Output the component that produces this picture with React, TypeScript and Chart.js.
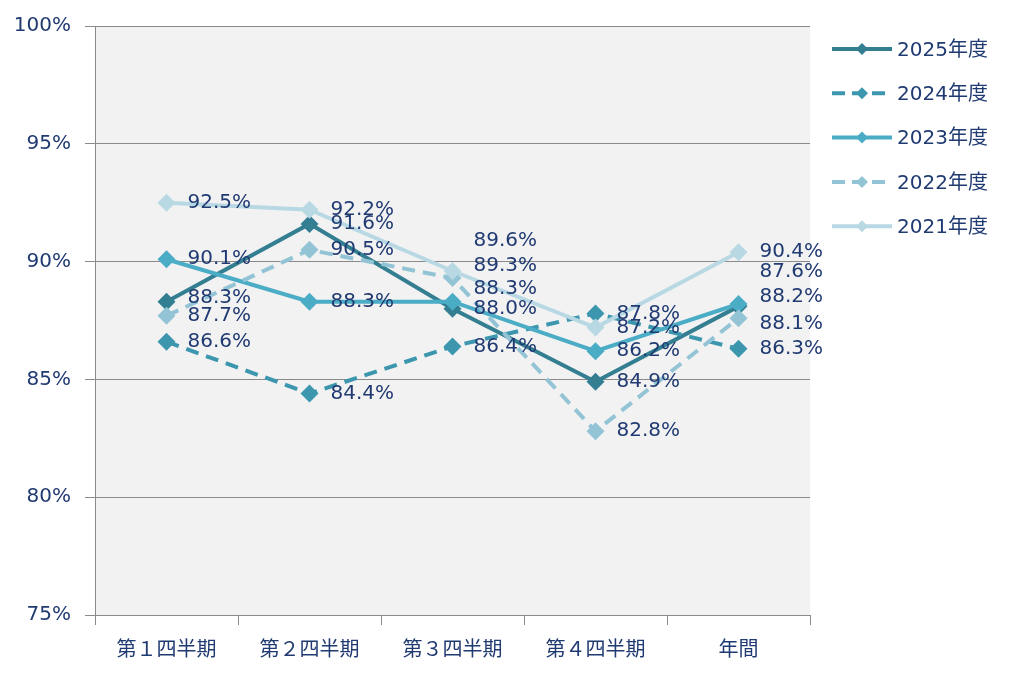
import React, { useRef, useEffect } from 'react';
import Chart from 'chart.js/auto';

// データ
const categories = ['第１四半期', '第２四半期', '第３四半期', '第４四半期', '年間'];
const seriesNames = ['2025年度', '2024年度', '2023年度', '2022年度', '2021年度'];
const values2025 = [88.3, 91.6, 88.0, 84.9, 88.1];
const values2024 = [86.6, 84.4, 86.4, 87.8, 86.3];
const values2023 = [90.1, 88.3, 88.3, 86.2, 88.2];
const values2022 = [87.7, 90.5, 89.3, 82.8, 87.6];
const values2021 = [92.5, 92.2, 89.6, 87.2, 90.4];
const yTicks = [75, 80, 85, 90, 95, 100];

const seriesValues = [values2025, values2024, values2023, values2022, values2021];
const seriesColors = ['#337E91', '#3C97AE', '#4BACC6', '#92C4D6', '#B8D9E4'];
const seriesDashed = [false, true, false, true, false];

// ラベルの上下位置の微調整 (px)
const labelNudge = [
    [-4, 0, 0, 0, 17],
    [0, 0, 0, 0, 0],
    [0, 0, -13, 0, -7],
    [0, 0, -12, 0, -46],
    [0, 0, -30, 0, 0],
];

const FONT = '"DejaVu Sans", "Noto Sans CJK JP", sans-serif';
const TEXT = '#203A72';
const GRID = '#8A8A8A';

const App: React.FC = () => {
    const canvasRef = useRef<HTMLCanvasElement>(null);
    const chartRef = useRef<Chart | null>(null);

    useEffect(() => {
        document.body.style.margin = '0';
        if (!canvasRef.current) return;
        if (chartRef.current) chartRef.current.destroy();

        // プロット領域の背景
        const bgPlugin = {
            id: 'plotBg',
            beforeDraw(chart: any) {
                const { ctx, chartArea } = chart;
                ctx.save();
                ctx.fillStyle = '#F2F2F2';
                ctx.fillRect(chartArea.left, chartArea.top, chartArea.right - chartArea.left, chartArea.bottom - chartArea.top);
                ctx.restore();
            },
        };

        // データラベル
        const labelPlugin = {
            id: 'pointLabels',
            afterDatasetsDraw(chart: any) {
                const { ctx } = chart;
                ctx.save();
                ctx.font = `20px ${FONT}`;
                ctx.fillStyle = TEXT;
                ctx.textAlign = 'left';
                ctx.textBaseline = 'middle';
                chart.data.datasets.forEach((ds: any, di: number) => {
                    const meta = chart.getDatasetMeta(di);
                    meta.data.forEach((pt: any, i: number) => {
                        const v = ds.data[i] as number;
                        ctx.fillText(v.toFixed(1) + '%', pt.x + 21, pt.y + labelNudge[di][i]);
                    });
                });
                ctx.restore();
            },
        };

        // 凡例 (右側)
        const legendPlugin = {
            id: 'sideLegend',
            afterDraw(chart: any) {
                const { ctx, chartArea } = chart;
                const x0 = chartArea.right + 22;
                ctx.save();
                seriesNames.forEach((name, i) => {
                    const y = 49 + i * 44.3;
                    ctx.strokeStyle = seriesColors[i];
                    ctx.fillStyle = seriesColors[i];
                    ctx.lineWidth = 4;
                    ctx.setLineDash(seriesDashed[i] ? [13, 7] : []);
                    ctx.beginPath();
                    ctx.moveTo(x0, y);
                    ctx.lineTo(x0 + 60, y);
                    ctx.stroke();
                    ctx.setLineDash([]);
                    const cx = x0 + 30;
                    ctx.beginPath();
                    ctx.moveTo(cx, y - 6);
                    ctx.lineTo(cx + 6, y);
                    ctx.lineTo(cx, y + 6);
                    ctx.lineTo(cx - 6, y);
                    ctx.closePath();
                    ctx.fill();
                    ctx.font = `20px ${FONT}`;
                    ctx.fillStyle = TEXT;
                    ctx.textAlign = 'left';
                    ctx.textBaseline = 'middle';
                    ctx.fillText(name, x0 + 65, y + 1.5);
                });
                ctx.restore();
            },
        };

        chartRef.current = new Chart(canvasRef.current, {
            type: 'line',
            data: {
                labels: categories,
                datasets: seriesNames.map((name, i) => ({
                    label: name,
                    data: seriesValues[i],
                    borderColor: seriesColors[i],
                    backgroundColor: seriesColors[i],
                    borderWidth: 4,
                    borderDash: seriesDashed[i] ? [13, 8] : [],
                    pointStyle: 'rectRot',
                    pointRadius: 9,
                    pointBorderWidth: 0,
                    pointBackgroundColor: seriesColors[i],
                    fill: false,
                    tension: 0,
                    order: seriesNames.length - i,
                })),
            },
            options: {
                animation: false,
                responsive: true,
                maintainAspectRatio: false,
                layout: { padding: { top: 25, right: 214, bottom: 7, left: 0 } },
                plugins: {
                    legend: { display: false },
                    tooltip: { enabled: false },
                },
                scales: {
                    x: {
                        offset: true,
                        grid: { offset: true, drawOnChartArea: false, drawTicks: true, tickLength: 10, color: GRID },
                        border: { color: GRID, width: 1 },
                        ticks: { color: TEXT, font: { size: 20, family: FONT }, padding: 14, maxRotation: 0 },
                    },
                    y: {
                        min: yTicks[0],
                        max: yTicks[yTicks.length - 1],
                        afterBuildTicks: (scale: any) => {
                            scale.ticks = yTicks.map((v) => ({ value: v }));
                        },
                        afterFit: (scale: any) => {
                            scale.width = 95;
                        },
                        grid: { color: GRID, tickLength: 10, lineWidth: 1 },
                        border: { color: GRID, width: 1 },
                        ticks: {
                            color: TEXT,
                            font: { size: 20, family: FONT },
                            padding: 14,
                            callback: (v: any) => v + '%',
                        },
                    },
                },
            },
            plugins: [bgPlugin, labelPlugin, legendPlugin],
        });

        return () => {
            if (chartRef.current) {
                chartRef.current.destroy();
                chartRef.current = null;
            }
        };
    }, []);

    return (
        <div style={{ width: 1024, height: 684, position: 'relative', background: '#fff' }}>
            <canvas ref={canvasRef}></canvas>
        </div>
    );
};

export default App;
